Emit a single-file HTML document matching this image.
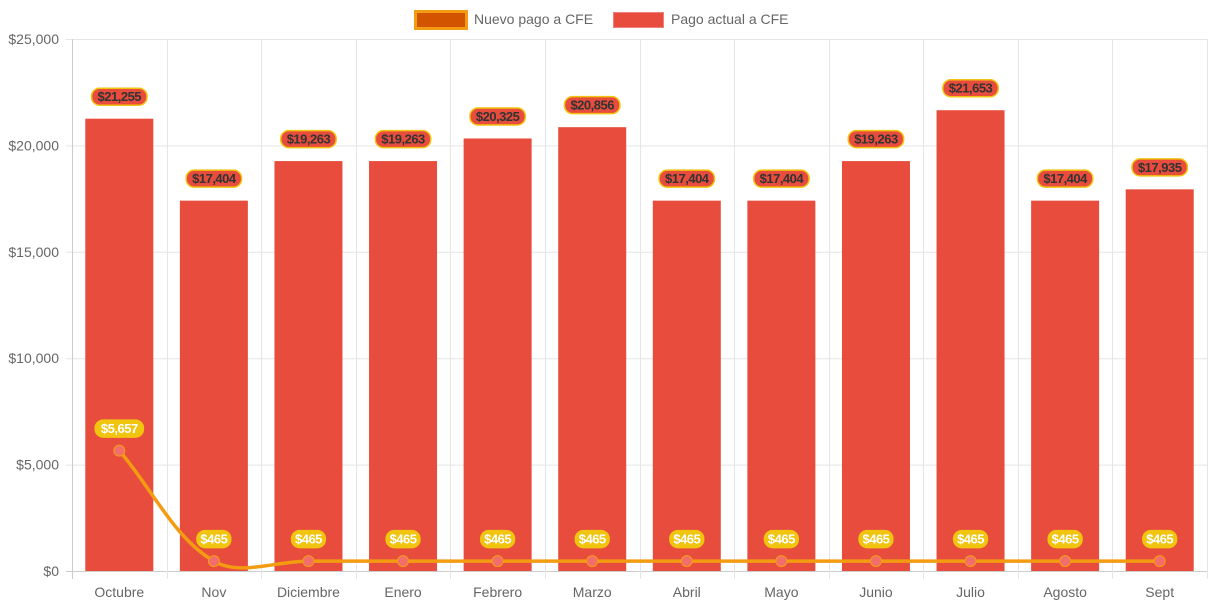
<!DOCTYPE html>
<html><head><meta charset="utf-8"><style>
body{margin:0;background:#fff;font-family:"Liberation Sans",sans-serif}
svg{display:block}
</style></head><body>
<svg id="c" width="1213" height="606" xmlns="http://www.w3.org/2000/svg">
<g>
<g><rect x="415.5" y="11.5" width="51" height="17" fill="#d35400" stroke="#f39c12" stroke-width="3"/><text x="474" y="24" font-size="14" fill="#666">Nuevo pago a CFE</text></g>
<g><rect x="613.5" y="12.5" width="50" height="15" fill="#e74c3c" stroke="#f08080" stroke-width="1"/><text x="671" y="24" font-size="14" fill="#666">Pago actual a CFE</text></g>
</g>
</svg>
<script>
const categories=["Octubre","Nov","Diciembre","Enero","Febrero","Marzo","Abril","Mayo","Junio","Julio","Agosto","Sept"];
const actualValues=[21255,17404,19263,19263,20325,20856,17404,17404,19263,21653,17404,17935];
const nuevoValues=[5657,465,465,465,465,465,465,465,465,465,465,465];
const yTicks=[0,5000,10000,15000,20000,25000];
const NS="http://www.w3.org/2000/svg",svg=document.getElementById('c');
const L=72,R=1207,T=39,B=571,yMax=25000;
const bw=(R-L)/categories.length;
const x=i=>L+bw*(i+0.5);
const y=v=>B-(v/yMax)*(B-T);
const fmt=v=>'$'+v.toLocaleString('en-US');
function el(t,a,p){const e=document.createElementNS(NS,t);for(const k in a)e.setAttribute(k,a[k]);(p||svg).appendChild(e);return e;}
const grid=el('g',{});


yTicks.forEach(t=>{
 el('line',{x1:L-6,x2:R,y1:y(t)+.5,y2:y(t)+.5,stroke:t===0?'#ccc':'#e5e5e5'},grid);
 const tx=el('text',{x:L-13,y:y(t)+5,'text-anchor':'end','font-size':14,fill:'#666'});
 tx.textContent=fmt(t);
 
 
});
for(let i=0;i<=categories.length;i++){el('line',{x1:Math.round(L+bw*i)+.5,x2:Math.round(L+bw*i)+.5,y1:T,y2:B+8,stroke:i===0?'#ccc':'#e5e5e5'},grid);}
categories.forEach((c,i)=>{
 const tx=el('text',{x:x(i),y:597,'text-anchor':'middle','font-size':14,fill:'#666'});
 tx.textContent=c;
 
 
});
const bars=el('g',{});


actualValues.forEach((v,i)=>{
 const r=el('rect',{x:x(i)-34,y:y(v),width:68,height:B-y(v),fill:'#e74c3c'},bars);
 
 
});
const pts=nuevoValues.map((v,i)=>({x:x(i),y:y(v)}));
const t=0.35;let d=`M${pts[0].x},${pts[0].y}`;
const cps=pts.map((p,i)=>{
 const pr=pts[i-1]||p,nx=pts[i+1]||p;
 const d01=Math.hypot(p.x-pr.x,p.y-pr.y),d12=Math.hypot(nx.x-p.x,nx.y-p.y);
 let fa=d01/(d01+d12)||0,fb=d12/(d01+d12)||0;fa*=t;fb*=t;
 return{px:p.x-fa*(nx.x-pr.x),py:p.y-fa*(nx.y-pr.y),nx:p.x+fb*(nx.x-pr.x),ny:p.y+fb*(nx.y-pr.y)};
});
for(let i=1;i<pts.length;i++){d+=` C${cps[i-1].nx},${cps[i-1].ny} ${cps[i].px},${cps[i].py} ${pts[i].x},${pts[i].y}`;}
const line=el('path',{d,fill:'none',stroke:'#f39c12','stroke-width':3.5});


pts.forEach((p,i)=>{
 const c=el('circle',{cx:p.x,cy:p.y,r:5.5,fill:'#f46d6d',stroke:'#f39c12','stroke-width':1});
 
 
});
function label(cx,cy,txt,bg,border,fg){
 const w=txt.length*7.2+5;
 const g=el('g',{});
 
 
 el('rect',{x:cx-w/2,y:cy-8.5,width:w,height:17,rx:8,fill:bg,stroke:border,'stroke-width':1.5},g);
 const tx=el('text',{x:cx,y:cy+4.5,'text-anchor':'middle','font-size':13,'font-weight':'bold',fill:fg,'letter-spacing':'-0.5'},g);
 tx.textContent=txt;
}
actualValues.forEach((v,i)=>label(x(i),y(v)-22,fmt(v),'#e74c3c','#f1c40f','#333'));
nuevoValues.forEach((v,i)=>label(x(i),y(v)-22,fmt(v),'#f1c40f','#f1c40f','#fff'));
</script>
</body></html>
